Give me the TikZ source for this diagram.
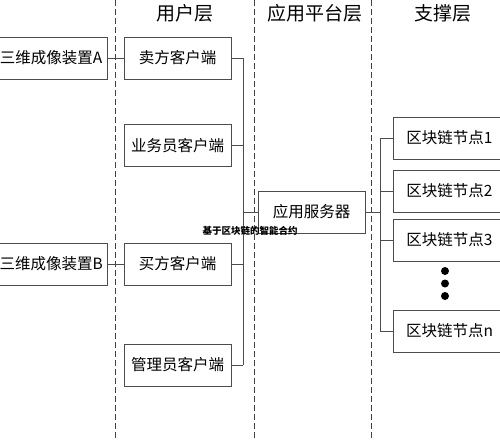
\documentclass[tikz,border=0pt]{standalone}
\usepackage{fontspec}
\setmainfont{Noto Sans CJK SC}
\usetikzlibrary{positioning}

\begin{document}
\begin{tikzpicture}[
  x=1pt, y=-1pt,
  box/.style={draw=black!70, line width=0.9pt, minimum width=107pt, minimum height=42pt, inner sep=0pt, align=center, font=\fontsize{15.5}{18}\selectfont},
  head/.style={font=\fontsize{19}{22}\selectfont},
  sep/.style={draw=black!75, line width=0.8pt, dash pattern=on 6pt off 3pt},
  conn/.style={draw=black!70, line width=0.9pt},
  dot/.style={circle, fill=black, minimum size=8pt, inner sep=0pt}
]
\useasboundingbox (0,0) rectangle (500,440);

\draw[sep] (115,0) -- (115,440);
\draw[sep] (254,0) -- (254,440);
\draw[sep] (371,0) -- (371,440);

\node[head] (userhead) at (185,13) {用户层};
\node[head] (apphead) at (315,13) {应用平台层};
\node[head] (supphead) at (443,13) {支撑层};

\node[box] (seller) at (177.5,58) {卖方客户端};
\node[box] (sales) at (177.5,145.5) {业务员客户端};
\node[box] (buyer) at (177.5,264) {买方客户端};
\node[box] (admin) at (177.5,365) {管理员客户端};
\node[box, minimum width=112pt, left=16pt of seller] (devA) {三维成像装置A};
\node[box, minimum width=112pt, left=16pt of buyer] (devB) {三维成像装置B};

\node[box] (server) at (311.5,212) {应用服务器};

\node[box, minimum width=113pt] (chain1) at (449.5,138) {区块链节点1};
\node[box, minimum width=113pt] (chain2) at (449.5,191) {区块链节点2};
\node[box, minimum width=113pt] (chain3) at (449.5,240) {区块链节点3};
\node[box, minimum width=113pt] (chainn) at (449.5,331) {区块链节点n};
\node[dot] (dot1) at (445,271) {};
\node[dot] (dot2) at (445,283.5) {};
\node[dot] (dot3) at (445,296) {};

\coordinate (busL) at (243,0);
\coordinate (busR) at (380,0);

\draw[conn] (devA.east) -- (seller.west);
\draw[conn] (devB.east) -- (buyer.west);
\foreach \n in {seller, sales, buyer, admin}
  \draw[conn] (\n.east) -- (\n.east -| busL);
\draw[conn] (seller.east -| busL) -- (admin.east -| busL);
\draw[conn] (server.west -| busL) -- (server.west);

\draw[conn] (server.east) -- (server.east -| busR);
\foreach \n in {chain1, chain2, chain3, chainn}
  \draw[conn] (\n.west -| busR) -- (\n.west);
\draw[conn] (chain1.west -| busR) -- (chainn.west -| busR);

\node[font=\fontsize{9.5}{11}\selectfont\bfseries, inner sep=0pt] (contract) at (250,231) {基于区块链的智能合约};

\end{tikzpicture}
\end{document}
